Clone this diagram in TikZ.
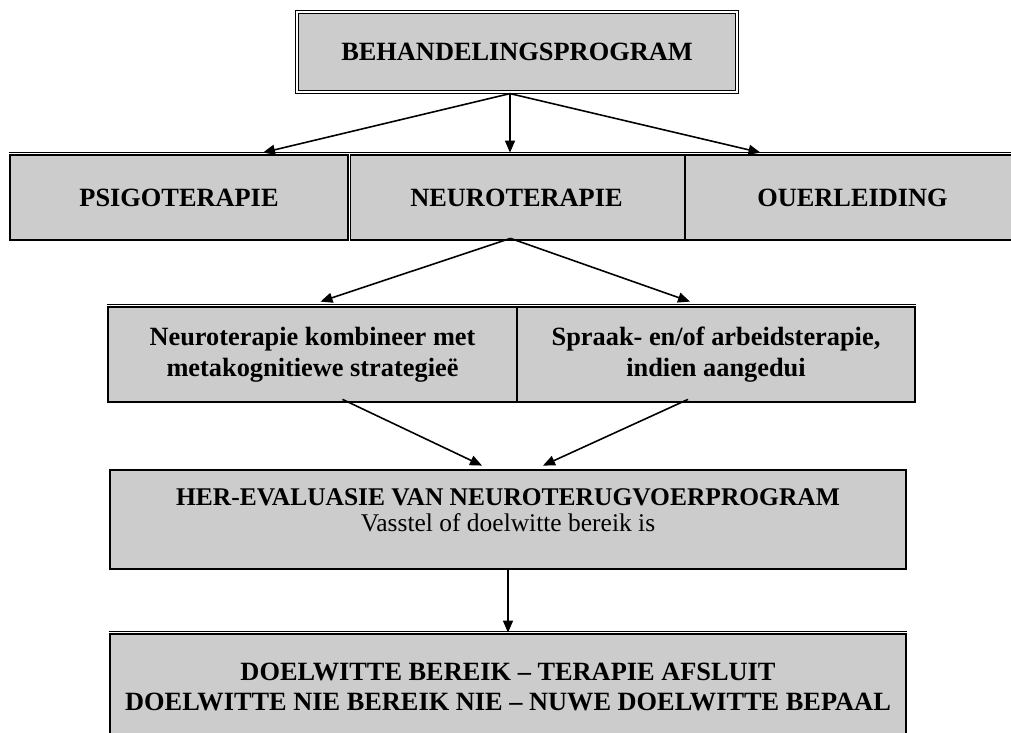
\documentclass[tikz,border=0pt]{standalone}
\usepackage{fontspec}
\setmainfont{Liberation Serif}
\usetikzlibrary{calc,arrows.meta}

\tikzset{
	cell/.style={fill=black!20, draw, line width=1.6pt, inner sep=0pt, align=center, font=\fontsize{15}{17.5}\selectfont\bfseries},
	dblframe/.style={double, line width=0.7pt, double distance=1.2pt},
	thinrule/.style={double, line width=0.4pt, double distance=0.9pt},
	link/.style={line width=0.9pt, -{Triangle[length=2.4mm,width=2mm]}}
}

\begin{document}
\begin{tikzpicture}[x=0.02cm, y=-0.02cm]
			%%%%% START %%%%%
			\useasboundingbox (0, 0) rectangle (1011, 733);
			
			\node[cell, dblframe, minimum width=8.8cm, minimum height=1.6cm] (top) at (517, 52) {BEHANDELINGSPROGRAM};
			
			\node[cell, minimum width=6.76cm, minimum height=1.7cm] (psigo) at (179, 197.5) {PSIGOTERAPIE};
			\node[cell, minimum width=6.74cm, minimum height=1.7cm] (neuro) at (516.5, 197.5) {NEUROTERAPIE};
			\node[cell, minimum width=6.7cm, minimum height=1.7cm] (ouer) at (852.5, 197.5) {OUERLEIDING};
			\draw[thinrule] (psigo.north west) -- (ouer.north east);
			\draw[thinrule] (psigo.north east) -- (psigo.south east);
			
			\node[cell, minimum width=8.18cm, minimum height=1.9cm] (kombi) at (312.5, 354.5) {Neuroterapie kombineer met\\metakognitiewe strategieë};
			\node[cell, minimum width=7.96cm, minimum height=1.9cm] (spraak) at (716, 354.5) {Spraak- en/of arbeidsterapie,\\indien aangedui};
			\draw[thinrule] (kombi.north west) -- (spraak.north east);
			
			\node[cell, font=\fontsize{14.5}{15}\selectfont, minimum width=15.92cm, minimum height=1.98cm] (her) at (508, 519.5) {\textbf{HER-EVALUASIE VAN NEUROTERUGVOERPROGRAM}\\Vasstel of doelwitte bereik is\rule[-11pt]{0pt}{11pt}};
			
			\node[cell, minimum width=15.92cm, minimum height=2.12cm] (slot) at (508, 687) {DOELWITTE BEREIK -- TERAPIE AFSLUIT\\DOELWITTE NIE BEREIK NIE -- NUWE DOELWITTE BEPAAL};
			\draw[thinrule] (slot.north west) -- (slot.north east);
			
			% arrows
			\draw[link] ($(top.south)+(-7, 1)$) -- ($(psigo.north)+(84, -1)$);
			\draw[link] ($(top.south)+(-7, 1)$) -- ($(neuro.north)+(-6.5, -1)$);
			\draw[link] ($(top.south)+(-7, 1)$) -- ($(ouer.north)+(-92, -1)$);
			
			\draw[link] ($(neuro.south)+(-6, -3)$) -- ($(kombi.north)+(8, -4)$);
			\draw[link] ($(neuro.south)+(-6, -3)$) -- ($(spraak.north)+(-26, -4)$);
			
			\draw[link] ($(kombi.south)+(30, -4)$) -- ($(her.north)+(-26, -3)$);
			\draw[link] ($(spraak.south)+(-28, -4)$) -- ($(her.north)+(35, -3)$);
			
			\draw[link] (her.south) -- (slot.north);
			%%%%% END %%%%%
\end{tikzpicture}
\end{document}
